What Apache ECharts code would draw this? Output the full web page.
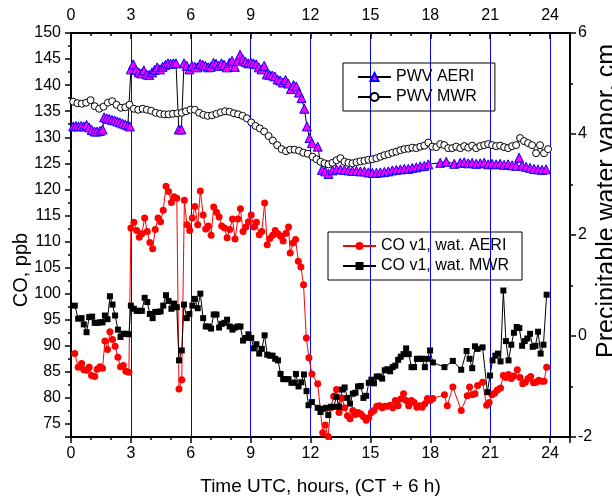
<!DOCTYPE html>
<html>
<head>
<meta charset="utf-8">
<script src="https://cdn.jsdelivr.net/npm/echarts@6/dist/echarts.min.js"></script>
<style>
  html, body { margin: 0; padding: 0; background: #fff; }
  #chart { width: 612px; height: 498px; }
</style>
</head>
<body>
<div id="chart"></div>
<script>
const FONT = 'Liberation Sans, Arial, sans-serif'

// CO retrieved with AERI water (ppb)
const coAeriHours = [0.19, 0.36, 0.53, 0.64, 0.78, 0.91, 1.03, 1.19, 1.31, 1.45, 1.58, 1.70, 1.83, 1.95, 2.08, 2.21, 2.35, 2.48, 2.62, 2.75, 2.90,
  3.00, 3.15, 3.29, 3.42, 3.55, 3.69, 3.82, 3.95, 4.09, 4.22, 4.36, 4.49, 4.62, 4.76, 4.89, 5.03, 5.16, 5.30, 5.41, 5.55, 5.68, 5.81, 5.95,
  6.08, 6.21, 6.35, 6.48, 6.62, 6.75, 6.88, 7.02, 7.15, 7.29, 7.42, 7.55, 7.69, 7.82, 7.95, 8.09, 8.22, 8.36, 8.49, 8.62, 8.76, 8.89,
  9.03, 9.16, 9.29, 9.43, 9.56, 9.70, 9.83, 9.96, 10.10, 10.23, 10.37, 10.50, 10.63, 10.77, 10.90, 10.98, 11.12, 11.25, 11.39, 11.52,
  11.65, 11.79, 11.92, 12.07, 12.36, 12.61, 12.74, 12.88, 13.01, 13.16, 13.30, 13.43, 13.58, 13.71, 13.85, 13.98, 14.12, 14.25, 14.38,
  14.52, 14.65, 14.79, 14.92, 15.05, 15.18, 15.32, 15.45, 15.59, 15.72, 15.85, 15.99, 16.12, 16.25, 16.39, 16.52, 16.66, 16.79, 16.92,
  17.06, 17.19, 17.33, 17.46, 17.59, 17.73, 17.86, 17.99, 18.13, 18.71, 18.85, 19.13, 19.55, 19.85, 19.97, 20.10, 20.24, 20.37, 20.62,
  20.82, 20.95, 21.09, 21.22, 21.36, 21.52, 21.66, 21.79, 21.92, 22.06, 22.19, 22.36, 22.50, 22.63, 22.76, 22.90, 23.03, 23.17, 23.30,
  23.43, 23.57, 23.70, 23.83]
const coAeri = [88.5, 85.9, 86.6, 85.4, 85.3, 85.9, 84.3, 84.1, 85.5, 86.0, 85.7, 90.9, 89.3, 92.7, 91.2, 89.9, 87.8, 86.0, 86.2, 85.1, 84.9,
  112.6, 113.7, 112.1, 110.8, 111.5, 114.5, 111.9, 109.8, 108.6, 112.3, 114.5, 113.8, 116.0, 120.6, 119.6, 117.5, 118.6, 118.3, 81.7, 83.5, 117.9, 113.2, 112.1,
  114.5, 116.7, 113.2, 119.7, 115.1, 112.4, 113.0, 111.2, 116.6, 115.6, 114.7, 113.0, 112.6, 110.7, 112.3, 114.3, 110.5, 114.3, 116.3, 111.9, 112.8, 113.8,
  115.1, 112.8, 113.7, 111.3, 111.9, 117.4, 109.4, 110.6, 111.2, 112.1, 111.5, 111.0, 110.1, 111.6, 112.8, 107.8, 109.7, 110.4, 106.2, 105.1,
  101.7, 91.5, 87.7, 84.6, 82.7, 73.3, 74.8, 72.6, 78.1, 80.3, 81.6, 77.2, 80.0, 78.1, 76.6, 76.0, 77.6, 76.8, 77.2,
  76.9, 76.4, 75.7, 76.2, 77.2, 77.6, 78.4, 78.5, 78.1, 78.4, 78.4, 78.6, 78.1, 79.5, 78.5, 79.8, 80.8, 79.5, 78.5,
  79.5, 79.1, 78.2, 78.5, 78.2, 78.9, 79.9, 79.5, 79.9, 80.6, 78.5, 82.1, 77.6, 80.4, 82.1, 80.6, 80.8, 82.4, 83.0,
  78.6, 79.1, 80.6, 80.9, 81.5, 81.9, 84.3, 83.9, 84.5, 83.7, 84.2, 85.4, 83.9, 82.7, 83.0, 83.7, 84.1, 82.9, 83.0,
  83.4, 83.2, 83.2, 85.9]

// CO retrieved with MWR water (ppb)
const coMwrHours = [0.19, 0.36, 0.53, 0.64, 0.78, 0.91, 1.06, 1.19, 1.33, 1.46, 1.58, 1.70, 1.83, 1.95, 2.08, 2.21, 2.35, 2.48, 2.62, 2.75, 2.90,
  3.00, 3.15, 3.29, 3.42, 3.55, 3.69, 3.82, 3.95, 4.09, 4.22, 4.36, 4.49, 4.62, 4.76, 4.89, 5.03, 5.16, 5.30, 5.41, 5.55, 5.66, 5.80, 5.93,
  6.08, 6.21, 6.35, 6.48, 6.62, 6.75, 6.88, 7.02, 7.15, 7.29, 7.42, 7.55, 7.69, 7.82, 7.95, 8.09, 8.22, 8.36, 8.49, 8.62, 8.76, 8.89,
  9.03, 9.16, 9.29, 9.43, 9.56, 9.70, 9.83, 9.96, 10.10, 10.23, 10.37, 10.50, 10.63, 10.77, 10.90, 11.04, 11.17, 11.27, 11.40, 11.54,
  11.67, 11.80, 11.90, 12.07, 12.36, 12.50, 12.63, 12.77, 12.89, 13.03, 13.16, 13.30, 13.43, 13.58, 13.71, 13.85, 13.98, 14.12, 14.25,
  14.38, 14.52, 14.65, 14.79, 14.92, 15.05, 15.18, 15.32, 15.45, 15.59, 15.72, 15.85, 15.99, 16.12, 16.25, 16.39, 16.52, 16.66, 16.79,
  16.92, 17.06, 17.19, 17.33, 17.46, 17.59, 17.73, 17.86, 17.99, 18.13, 18.71, 19.13, 19.55, 19.82, 19.97, 20.10, 20.24, 20.37, 20.62,
  20.86, 20.99, 21.12, 21.26, 21.39, 21.52, 21.66, 21.79, 21.92, 22.06, 22.19, 22.33, 22.46, 22.60, 22.73, 22.86, 23.00, 23.13, 23.27,
  23.40, 23.53, 23.67, 23.83]
const coMwr = [97.7, 95.2, 95.3, 94.1, 92.6, 95.5, 95.6, 94.4, 94.4, 94.5, 94.5, 95.8, 95.1, 99.5, 97.9, 95.8, 93.1, 91.7, 92.3, 92.3, 92.2,
  97.7, 97.1, 96.7, 96.7, 96.7, 99.2, 98.4, 96.1, 95.3, 96.5, 96.5, 96.6, 97.7, 99.7, 98.6, 97.1, 98.1, 97.4, 87.2, 89.1, 97.9, 95.3, 96.1,
  97.7, 99.0, 97.2, 100.0, 95.3, 93.7, 93.7, 93.3, 96.0, 96.0, 93.5, 94.2, 94.4, 95.0, 93.7, 93.1, 93.5, 93.7, 93.7, 91.0, 91.5, 92.2,
  91.5, 89.5, 90.3, 88.5, 89.4, 92.0, 88.3, 88.1, 88.1, 87.5, 87.2, 84.6, 83.6, 83.6, 83.6, 82.9, 82.9, 84.6, 82.2, 83.0,
  84.5, 81.3, 78.6, 79.2, 78.1, 77.3, 77.9, 78.1, 76.7, 78.3, 78.3, 80.2, 78.3, 81.6, 82.0, 80.0, 78.9, 80.8, 81.0,
  82.2, 82.3, 80.0, 80.4, 82.9, 83.5, 82.8, 84.1, 84.1, 83.7, 85.3, 85.5, 85.1, 85.9, 86.2, 87.3, 87.9, 88.4, 89.5,
  88.4, 85.9, 85.9, 87.5, 87.5, 87.5, 85.9, 87.5, 89.1, 86.8, 85.9, 87.1, 85.4, 89.0, 87.5, 85.7, 89.9, 89.4, 89.7,
  81.1, 84.3, 87.2, 88.1, 88.5, 87.0, 100.6, 90.9, 87.2, 90.2, 92.5, 93.6, 93.4, 90.0, 90.9, 91.4, 92.3, 89.8, 90.0,
  92.7, 88.5, 90.2, 99.8]

// precipitable water vapour from AERI (cm)
const pwvAeriHours = [0.11, 0.24, 0.37, 0.51, 0.64, 0.78, 0.91, 1.04, 1.18, 1.31, 1.45, 1.58, 1.66, 1.78, 1.91, 2.05, 2.18, 2.32, 2.45, 2.58,
  2.72, 2.85, 2.95, 3.00, 3.12, 3.25, 3.39, 3.52, 3.65, 3.79, 3.92, 4.06, 4.19, 4.32, 4.46, 4.59, 4.73, 4.86, 4.99, 5.13, 5.26, 5.40,
  5.53, 5.66, 5.80, 5.93, 6.06, 6.20, 6.33, 6.47, 6.60, 6.73, 6.87, 7.00, 7.14, 7.27, 7.40, 7.54, 7.67, 7.81, 7.94, 8.07, 8.21, 8.34,
  8.47, 8.61, 8.74, 8.88, 9.01, 9.14, 9.28, 9.41, 9.55, 9.68, 9.81, 9.95, 10.08, 10.21, 10.35, 10.48, 10.62, 10.75, 10.88, 11.02,
  11.15, 11.29, 11.42, 11.55, 11.69, 11.82, 11.95, 12.07, 12.36, 12.57, 12.74, 12.90, 13.10, 13.30, 13.50, 13.70, 13.90, 14.10, 14.30,
  14.50, 14.70, 14.90, 15.10, 15.30, 15.50, 15.70, 15.90, 16.10, 16.30, 16.50, 16.70, 16.90, 17.10, 17.30, 17.50, 17.70, 17.90, 18.50,
  18.80, 19.20, 19.50, 19.70, 19.90, 20.10, 20.30, 20.50, 20.70, 20.90, 21.10, 21.30, 21.50, 21.70, 21.90, 22.10, 22.30, 22.45, 22.60,
  22.80, 23.00, 23.20, 23.40, 23.60, 23.80]
const pwvAeri = [4.15, 4.16, 4.15, 4.16, 4.15, 4.18, 4.13, 4.08, 4.05, 4.05, 4.06, 4.09, 4.33, 4.31, 4.30, 4.28, 4.27, 4.25, 4.23, 4.21,
  4.19, 4.17, 4.15, 5.28, 5.38, 5.27, 5.22, 5.20, 5.26, 5.18, 5.17, 5.22, 5.27, 5.32, 5.28, 5.33, 5.37, 5.40, 5.39, 5.40, 5.40, 4.09,
  4.09, 5.40, 5.35, 5.28, 5.35, 5.33, 5.32, 5.39, 5.37, 5.35, 5.32, 5.33, 5.41, 5.39, 5.35, 5.40, 5.37, 5.32, 5.41, 5.45, 5.33, 5.45,
  5.57, 5.48, 5.43, 5.40, 5.41, 5.40, 5.38, 5.32, 5.28, 5.35, 5.18, 5.17, 5.16, 5.14, 5.08, 5.06, 5.02, 5.07, 5.00, 4.89,
  4.97, 4.94, 4.82, 4.71, 4.50, 4.15, 3.92, 3.82, 3.75, 3.29, 3.26, 3.21, 3.28, 3.30, 3.30, 3.29, 3.28, 3.27, 3.27,
  3.26, 3.26, 3.24, 3.23, 3.23, 3.24, 3.25, 3.26, 3.28, 3.29, 3.30, 3.31, 3.31, 3.33, 3.34, 3.36, 3.37, 3.40, 3.43,
  3.45, 3.41, 3.43, 3.44, 3.42, 3.43, 3.41, 3.42, 3.43, 3.40, 3.41, 3.40, 3.41, 3.39, 3.40, 3.38, 3.37, 3.53, 3.38,
  3.35, 3.33, 3.31, 3.30, 3.29, 3.30]

// precipitable water vapour from MWR (cm)
const pwvMwrHours = [0.11, 0.32, 0.54, 0.76, 0.98, 1.19, 1.41, 1.63, 1.85, 2.06, 2.28, 2.50, 2.72, 2.93, 3.15, 3.37, 3.59, 3.80, 4.02, 4.24,
  4.46, 4.68, 4.89, 5.11, 5.33, 5.55, 5.76, 5.98, 6.20, 6.42, 6.63, 6.85, 7.07, 7.29, 7.50, 7.72, 7.94, 8.16, 8.37, 8.59, 8.81, 9.03,
  9.24, 9.46, 9.68, 9.90, 10.11, 10.33, 10.55, 10.77, 10.98, 11.20, 11.42, 11.64, 11.86, 12.10, 12.30, 12.50, 12.70, 12.90, 13.10,
  13.30, 13.50, 13.70, 13.90, 14.10, 14.30, 14.50, 14.70, 14.90, 15.10, 15.30, 15.50, 15.70, 15.90, 16.10, 16.30, 16.50, 16.70, 16.90,
  17.10, 17.30, 17.50, 17.70, 17.90, 18.10, 18.30, 18.50, 18.70, 18.90, 19.10, 19.30, 19.50, 19.70, 19.90, 20.10, 20.30, 20.50, 20.70,
  20.90, 21.10, 21.30, 21.50, 21.70, 21.90, 22.10, 22.30, 22.50, 22.70, 22.90, 23.10, 23.30, 23.50, 23.70, 23.90]
const pwvMwr = [4.64, 4.61, 4.60, 4.62, 4.67, 4.55, 4.50, 4.54, 4.62, 4.65, 4.58, 4.52, 4.53, 4.58, 4.50, 4.48, 4.50, 4.48, 4.46, 4.42,
  4.40, 4.39, 4.39, 4.40, 4.41, 4.42, 4.45, 4.48, 4.48, 4.42, 4.38, 4.36, 4.37, 4.40, 4.43, 4.45, 4.44, 4.41, 4.39, 4.36, 4.31, 4.23,
  4.16, 4.11, 4.05, 3.96, 3.87, 3.78, 3.70, 3.66, 3.69, 3.69, 3.67, 3.63, 3.61, 3.55, 3.50, 3.45, 3.42, 3.40, 3.43,
  3.48, 3.52, 3.45, 3.43, 3.42, 3.44, 3.46, 3.47, 3.49, 3.50, 3.52, 3.55, 3.58, 3.60, 3.63, 3.65, 3.68, 3.70, 3.71,
  3.73, 3.72, 3.75, 3.77, 3.83, 3.75, 3.74, 3.80, 3.78, 3.72, 3.72, 3.75, 3.72, 3.76, 3.73, 3.77, 3.72, 3.76, 3.78,
  3.80, 3.78, 3.76, 3.77, 3.74, 3.72, 3.76, 3.78, 3.92, 3.86, 3.82, 3.78, 3.62, 3.78, 3.62, 3.70]

const pairs = (xs, ys) => xs.map((x, i) => [x, ys[i]])

const chart = echarts.init(document.getElementById('chart'))

const tickStyle = { color: '#000', width: 1.5 }

const xAxisBase = {
  type: 'value',
  min: 0,
  max: 25,
  interval: 3,
  axisLine: { onZero: false, lineStyle: { color: '#000', width: 2 } },
  minorTick: { show: true, splitNumber: 3, length: 3, lineStyle: tickStyle },
  axisLabel: {
    color: '#000', fontSize: 16, fontFamily: FONT, margin: 9,
    formatter: v => (v % 3 === 0 ? v : '')
  }
}

chart.setOption({
  animation: false,
  backgroundColor: '#fff',
  textStyle: { fontFamily: FONT },
  grid: { left: 71, right: 42, top: 33, bottom: 61, containLabel: false, outerBoundsMode: 'none' },
  legend: [
    {
      data: ['PWV AERI', 'PWV MWR'],
      orient: 'vertical',
      left: 343,
      top: 63,
      borderColor: '#000',
      borderWidth: 1,
      borderRadius: 0,
      padding: [6, 18, 6, 14],
      itemGap: 4,
      itemWidth: 33,
      itemHeight: 10,
      textStyle: { fontSize: 16, color: '#000', fontFamily: FONT }
    },
    {
      data: ['CO v1, wat. AERI', 'CO v1, wat. MWR'],
      orient: 'vertical',
      left: 328,
      top: 232,
      borderColor: '#000',
      borderWidth: 1,
      borderRadius: 0,
      padding: [6, 13, 6, 14],
      itemGap: 4,
      itemWidth: 33,
      itemHeight: 10,
      textStyle: { fontSize: 16, color: '#000', fontFamily: FONT }
    }
  ],
  xAxis: [
    Object.assign({}, xAxisBase, {
      position: 'bottom',
      name: 'Time UTC, hours, (CT + 6 h)',
      nameLocation: 'middle',
      nameGap: 40,
      nameTextStyle: { fontSize: 19, color: '#000', fontFamily: FONT },
      axisTick: { show: true, inside: false, length: 6, lineStyle: tickStyle },
      splitLine: { show: true, lineStyle: { color: '#0000ff', width: 1 } }
    }),
    Object.assign({}, xAxisBase, {
      position: 'top',
      axisTick: { show: true, inside: true, length: 6, lineStyle: tickStyle },
      minorTick: { show: true, splitNumber: 3, length: 3, lineStyle: tickStyle },
      splitLine: { show: false }
    })
  ],
  yAxis: [
    {
      type: 'value',
      position: 'left',
      min: 72.5,
      max: 150,
      splitNumber: 15,
      axisLine: { show: true, onZero: false, lineStyle: { color: '#000', width: 2 } },
      axisTick: { show: true, inside: false, length: 6, lineStyle: tickStyle },
      minorTick: { show: true, splitNumber: 2, length: 3, lineStyle: tickStyle },
      splitLine: { show: false },
      axisLabel: {
        color: '#000', fontSize: 16, fontFamily: FONT, margin: 10,
        formatter: v => (v % 5 === 0 ? v : '')
      }
    },
    {
      type: 'value',
      position: 'right',
      min: -2,
      max: 6,
      interval: 2,
      axisLine: { show: true, onZero: false, lineStyle: { color: '#000', width: 2 } },
      axisTick: { show: true, inside: false, length: 6, lineStyle: tickStyle },
      minorTick: { show: true, splitNumber: 2, length: 3, lineStyle: tickStyle },
      splitLine: { show: false },
      axisLabel: { color: '#000', fontSize: 16, fontFamily: FONT, margin: 8 }
    }
  ],
  graphic: [
    {
      type: 'text',
      x: 21,
      y: 270,
      rotation: Math.PI / 2,
      style: { text: 'CO, ppb', fontSize: 20, fontFamily: FONT, fill: '#000', align: 'center', verticalAlign: 'middle' }
    },
    {
      type: 'text',
      x: 607,
      y: 201,
      rotation: Math.PI / 2,
      style: { text: 'Precipitable water vapor, cm', fontSize: 25, fontFamily: FONT, fill: '#000', align: 'center', verticalAlign: 'middle' }
    }
  ],
  series: [
    {
      name: 'PWV AERI',
      type: 'line',
      yAxisIndex: 1,
      data: pairs(pwvAeriHours, pwvAeri),
      symbol: 'triangle',
      symbolSize: 9,
      showAllSymbol: true,
      itemStyle: { color: '#ff00ff', borderColor: '#0000ff', borderWidth: 1 },
      lineStyle: { color: '#000', width: 1 }
    },
    {
      name: 'PWV MWR',
      type: 'line',
      yAxisIndex: 1,
      data: pairs(pwvMwrHours, pwvMwr),
      symbol: 'circle',
      symbolSize: 7,
      showAllSymbol: true,
      itemStyle: { color: '#fff', borderColor: '#000', borderWidth: 1 },
      lineStyle: { color: '#000', width: 1 }
    },
    {
      name: 'CO v1, wat. AERI',
      type: 'line',
      data: pairs(coAeriHours, coAeri),
      symbol: 'circle',
      symbolSize: 7,
      showAllSymbol: true,
      itemStyle: { color: '#ff0000' },
      lineStyle: { color: '#ff0000', width: 1 }
    },
    {
      name: 'CO v1, wat. MWR',
      type: 'line',
      data: pairs(coMwrHours, coMwr),
      symbol: 'rect',
      symbolSize: 6,
      showAllSymbol: true,
      itemStyle: { color: '#000' },
      lineStyle: { color: '#000', width: 1 }
    }
  ]
})
</script>
</body>
</html>
